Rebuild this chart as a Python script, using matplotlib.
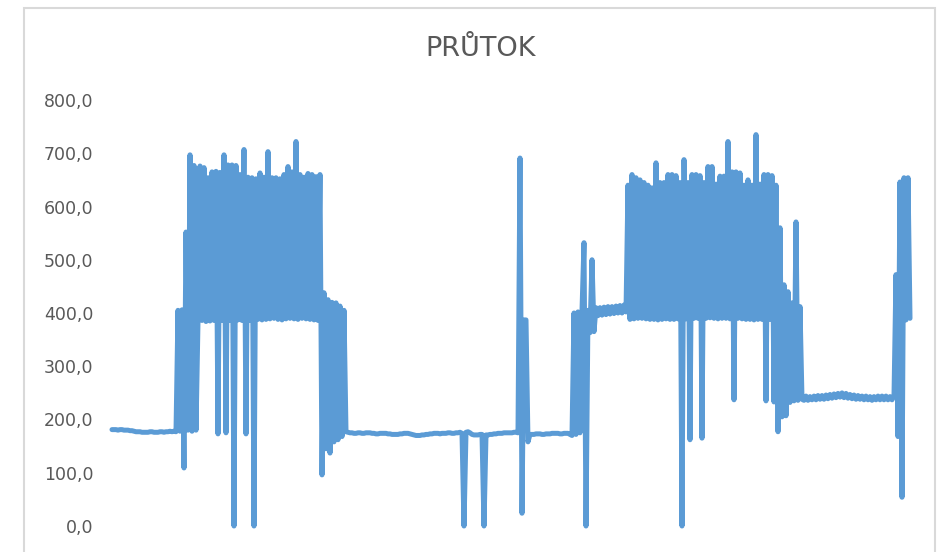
import numpy as np
import matplotlib
matplotlib.use('Agg')
import matplotlib.pyplot as plt
from matplotlib.patches import Rectangle

# flow readings, one value per sample, in time order, split by phase
flat_1 = [181, 181, 181, 180, 181, 181, 180, 180, 180, 179, 179, 178,
          177, 177, 177, 176, 176, 176, 176, 177, 177, 176, 176, 176,
          177, 177, 176, 177, 177, 178, 177, 178, 177]
rise_1 = [405, 178, 406, 109, 552, 180, 697, 178, 677, 180]
burst_1 = [385, 676, 386, 673, 384, 654, 385, 665, 386, 666,
           173, 664, 386, 697, 175, 678, 386, 678, 0, 677,
           387, 660, 386, 707, 173, 655, 386, 654, 0, 652,
           388, 663, 387, 655, 388, 703, 389, 654, 390, 654,
           388, 652, 387, 660, 389, 675, 390, 665, 389, 722,
           388, 660, 390, 655, 389, 662, 388, 660, 387, 656,
           386, 660, 96]
tail_1 = [438, 145, 425, 137, 420, 158, 419, 162, 413, 168, 405]
flat_2 = [177, 176, 175, 175, 174, 174, 175, 175, 174, 174,
          175, 175, 175, 174, 174, 173, 173, 174, 174, 174,
          174, 173, 173, 172, 172, 172, 172, 173, 173, 174,
          174, 174, 173, 172, 171, 170, 170, 170, 171, 171,
          172, 172, 173, 173, 174, 174, 174, 173, 174, 174,
          174, 175, 175, 174, 174, 175, 175, 176, 174, 0,
          176, 177, 175, 172, 171, 171, 171, 172, 172, 0,
          171, 171, 172, 172, 173, 173, 174, 174, 174, 175,
          175, 175, 175, 175, 176, 176, 175]
spike_mid = [691, 24, 387, 387, 158, 172]
flat_3 = [172, 172, 173, 173, 173, 172, 172, 173, 173, 173, 174,
          174, 174, 174, 173, 173, 174, 174, 174, 172, 170]
rise_2 = [400, 172, 402, 175, 404, 532, 0, 405, 363, 500, 365, 410,
          395, 410, 396, 411, 397, 412, 398, 412, 399, 413, 400, 414,
          400, 415, 402]
burst_2 = [640, 388, 660, 389, 654, 390, 650, 390, 645, 389,
           640, 388, 635, 388, 682, 387, 645, 388, 645, 389,
           660, 388, 660, 388, 658, 389, 645, 0, 688, 389,
           645, 162, 660, 390, 660, 390, 658, 165, 645, 390,
           675, 391, 675, 390, 642, 389, 657, 390, 657, 390,
           722, 389, 665, 237, 665, 390, 663, 389, 640, 388,
           650, 388, 640, 387, 735, 388, 642, 388, 660, 235,
           660, 388, 658, 233, 640, 177]
tail_2 = [560, 205, 453, 207, 440, 232, 419, 235, 571, 236, 412, 238]
flat_4 = [236, 244, 236, 243, 237, 244, 237, 245, 238, 245,
          238, 246, 239, 247, 240, 248, 241, 249, 242, 250,
          241, 249, 240, 247, 239, 246, 238, 245, 238, 244,
          237, 244, 237, 243, 236, 243, 237, 244, 237, 244,
          237, 244, 237, 243, 237, 244]
end_part = [472, 168, 646, 54, 654, 387, 654, 390]

flow = (flat_1 + rise_1 + burst_1 + tail_1 + flat_2 + spike_mid + flat_3
        + rise_2 + burst_2 + tail_2 + flat_4 + end_part)
samples = np.arange(len(flow))

y_ticks = [0, 100, 200, 300, 400, 500, 600, 700, 800]

W, H = 946, 552
fig = plt.figure(figsize=(W / 100, H / 100), dpi=100)
fig.patch.set_facecolor('white')

# light chart border like the spreadsheet frame
fig.add_artist(Rectangle((24 / W, -0.05), (935 - 24) / W, 1.05 - 8 / H,
                         transform=fig.transFigure, fill=False,
                         edgecolor='#d9d9d9', linewidth=1.5))

ax = fig.add_axes([112 / W, 26 / H, (910 - 112) / W, (526 - 100) / H])
ax.plot(samples, flow, color='#5b9bd5', linewidth=3.6, clip_on=False,
        solid_joinstyle='round', solid_capstyle='round')
ax.set_xlim(0, len(flow) - 1)
ax.set_ylim(0, 800)
ax.set_yticks(y_ticks)
ax.set_yticklabels([f'{v:.1f}'.replace('.', ',') for v in y_ticks])
ax.set_xticks([])
ax.tick_params(axis='y', length=0, pad=13.5, labelsize=12.5,
               labelcolor='#595959')
for s in ax.spines.values():
    s.set_visible(False)

fig.text(481 / W, 1 - 49 / H, 'PRŮTOK', ha='center', va='center',
         fontsize=19.5, color='#595959')

fig.savefig('out.png', dpi=100)
